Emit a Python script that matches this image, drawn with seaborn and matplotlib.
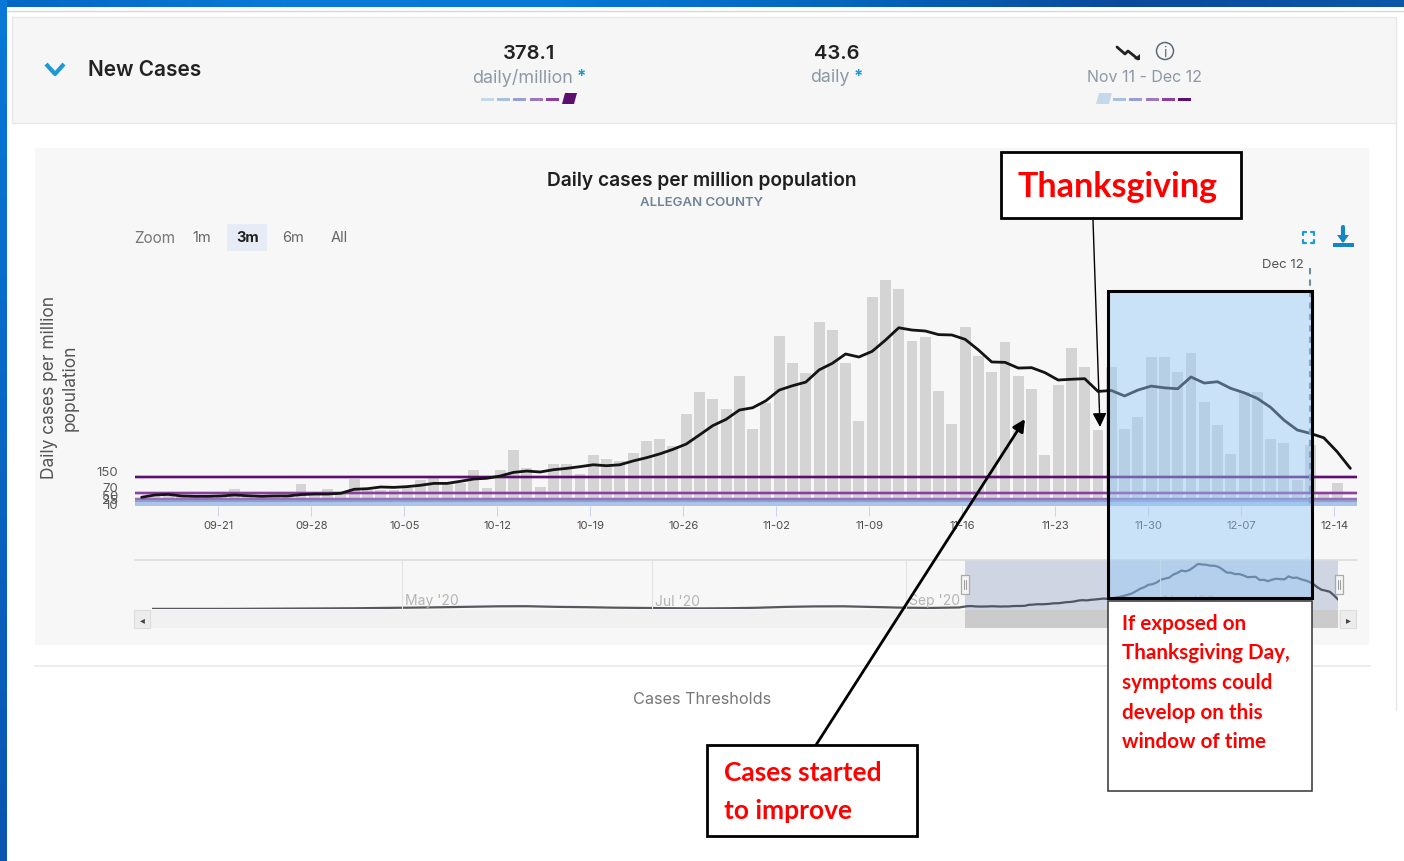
import numpy as np
import pandas as pd
import matplotlib
matplotlib.use("Agg")
import matplotlib.pyplot as plt
from matplotlib.patches import Rectangle, Polygon, Circle
from matplotlib.transforms import ScaledTranslation
import seaborn as sns

sns.set_theme(style="white")
plt.rcParams["font.family"] = ["Inter", "DejaVu Sans"]

# ---- data ----
dates = pd.date_range("2020-09-15", "2020-12-15", freq="D")
daily_cases = [40, 58, 55, 45, 45, 45, 58, 88, 52, 45, 45, 58, 116, 58, 88, 63, 140, 84, 84, 84, 93,
               137, 160, 128, 123, 190, 96, 190, 295, 202, 98, 221, 221, 168, 267, 247, 239,
               281, 344, 351, 317, 484, 602, 561, 509, 686, 405, 540, 895, 751, 698, 966, 928,
               751, 449, 1098, 1189, 1144, 870, 888, 607, 430, 940, 789, 705, 861, 686, 614,
               267, 638, 830, 730, 400, 731, 405, 470, 785, 785, 707, 803, 549, 424, 273, 601,
               601, 352, 333, 137, 319, 63, 123, np.nan]
rolling_avg = [46, 58, 61, 53, 51, 51, 53, 58, 54, 51, 53, 53, 60, 63, 63, 67, 88, 91, 100, 98, 102,
               109, 119, 119, 130, 142, 146, 158, 177, 184, 179, 191, 198, 207, 217, 212, 217,
               237, 254, 274, 298, 326, 374, 423, 456, 505, 517, 554, 610, 633, 652, 716, 751,
               800, 784, 814, 873, 938, 926, 921, 902, 900, 877, 821, 758, 756, 726, 728, 702,
               663, 667, 670, 603, 608, 579, 610, 631, 622, 617, 679, 647, 654, 619, 596, 566,
               519, 452, 400, 382, 359, 286, 198]
thresholds = [150, 70, 38, 24, 9]
threshold_labels = ["150", "70", "50", "25", "10"]
threshold_colors = ["#5c0f6f", "#8b3fa0", "#9b6fba", "#8f9ad0", "#a9c4e6"]
tick_dates = ["09-21", "09-28", "10-05", "10-12", "10-19", "10-26", "11-02", "11-09",
              "11-16", "11-23", "11-30", "12-07", "12-14"]
nav_early = [2, 2, 2, 3, 6, 9, 12, 15, 22, 28, 36, 46, 56, 58, 45, 38, 28, 22, 16, 12, 16, 26,
             44, 54, 56, 42, 28, 22, 32]
range_buttons = ["1m", "3m", "6m", "All"]
nav_labels = ["May '20", "Jul '20", "Sep '20", "Nov '20"]
nav_label_px = [405, 655, 909, 1163]
window_lines = ["If exposed on", "Thanksgiving Day,", "symptoms could", "develop on this", "window of time"]

W, H = 1404, 862
fig = plt.figure(figsize=(W / 100, H / 100), dpi=100, facecolor="white")


def px_axes(l, t, r, b, zorder):
    ax = fig.add_axes([l / W, 1 - b / H, (r - l) / W, (b - t) / H], zorder=zorder)
    ax.patch.set_alpha(0)
    return ax


# ---- page furniture (pixel space) ----
bg = px_axes(0, 0, W, H, 0)
bg.axis("off")
grad = np.linspace(0, 1, 300).reshape(1, -1)
cmap = matplotlib.colors.LinearSegmentedColormap.from_list(
    "b", ["#0467c4", "#0a7ad8", "#0678d6", "#0466bd", "#0a4a9c", "#0a57a8"])
bg.imshow(grad, extent=(0, W, 7, 0), aspect="auto", cmap=cmap, zorder=1)
bg.imshow(np.linspace(0, 1, 100).reshape(-1, 1), extent=(0, 7, H, 0), aspect="auto",
          cmap=matplotlib.colors.LinearSegmentedColormap.from_list("l", ["#0878d8", "#0a55b0"]), zorder=1)
bg.set_xlim(0, W); bg.set_ylim(H - 1, -1)
bg.plot([7, W], [11, 11], color="#d8d8d8", lw=1)
bg.add_patch(Rectangle((12, 17), 1384, 106, fc="#f6f6f6", ec="#e8e8e8", lw=1))
bg.plot([1396, 1396], [123, 710], color="#e6e6e6", lw=1)
bg.add_patch(Rectangle((35, 148), 1334, 497, fc="#f7f7f7", ec="none"))
bg.plot([35, 1370], [666, 666], color="#ececec", lw=1.5)
bg.add_patch(Rectangle((227, 224), 40, 27, fc="#e6ebf5", ec="none"))

# ---- main chart ----
df = pd.DataFrame({"idx": np.arange(len(dates)), "daily": daily_cases, "avg": rolling_avg})
ax = px_axes(135, 271, 1357, 507, 1)
for y, c, lw in zip(thresholds, threshold_colors, [1.6, 1.6, 1.5, 1.5, 3.0]):
    ax.axhline(y, color=c, lw=lw + 1.2, alpha=0.25, zorder=3)
    ax.axhline(y, color=c, lw=lw, zorder=3.1)
ax.axhspan(0, 12, color="#a9c4e6", alpha=0.9, zorder=2.9, lw=0)
sns.barplot(data=df.dropna(subset=["daily"]), x="idx", y="daily", native_scale=True, ax=ax,
            color="#d4d4d4", saturation=1, width=0.82, zorder=2, linewidth=0)
sns.lineplot(data=df, x="idx", y="avg", ax=ax, color="#141414", lw=2.0, zorder=4, errorbar=None)
ax.set_xlim(-0.5, 91.5)
ax.set_ylim(0, 1242)
ax.set_xlabel(""); ax.set_ylabel("")
sns.despine(ax=ax, left=True, bottom=True, top=True, right=True)
tick_pos = [6 - 0.22 + 7 * i for i in range(len(tick_dates))]
ax.set_xticks(tick_pos, tick_dates)
ax.tick_params(axis="x", length=7, width=0.8, color="#ccd6eb", pad=3, labelsize=8, labelcolor="#4a4a4a", bottom=True)
ax.set_yticks(thresholds, threshold_labels)
ax.tick_params(axis="y", length=0, pad=12, labelsize=9.5, labelcolor="#5a5a5a")
for lab, dy in zip(ax.get_yticklabels(), [7, 6, 4, 3, 1]):
    lab.set_transform(lab.get_transform() + ScaledTranslation(0, dy / 100, fig.dpi_scale_trans))

# ---- navigator ----
nav = px_axes(152, 561, 1338, 610, 1)
nav_days = np.arange(0, 197, 7).tolist()
nav_df = pd.DataFrame({
    "day": nav_days + [197 + i for i in range(len(rolling_avg))],
    "value": nav_early[:len(nav_days)] + rolling_avg,
})
sns.lineplot(data=nav_df, x="day", y="value", ax=nav, color="#55585c", lw=1.6, errorbar=None, zorder=3)
nav.set_xlim(0, 288)
nav.set_ylim(0, 1020)
nav.axis("off")

# ---- overlay (pixel space) ----
ov = px_axes(0, 0, W, H, 2)
ov.set_xlim(0, W); ov.set_ylim(H - 1, -1); ov.axis("off")


def T(x, y, s, size, color="#222222", ha="center", va="center", **kw):
    return ov.text(x, y + 0.5, s, fontsize=size, color=color, ha=ha, va=va, **kw)


# header
ov.plot([46, 55, 64], [64, 74, 64], color="#1b9ad6", lw=3, solid_capstyle="butt")
T(88, 68, "New Cases", 15, ha="left", weight="semibold")
T(529, 52, "378.1", 14.5, weight="semibold")
T(523, 76, "daily/million", 12.9, color="#8d99a6")
T(581, 75, "*", 12, color="#1b9ad6", weight="bold")
T(837, 52, "43.6", 14.5, weight="semibold")
T(830, 76, "daily", 12.8, color="#8d99a6")
T(858, 75, "*", 12, color="#1b9ad6", weight="bold")
T(1144, 76, "Nov 11 - Dec 12", 11.5, color="#8d99a6")
ov.plot([1117, 1125, 1128, 1138], [47, 54, 51, 59], color="#222222", lw=2)
ov.add_patch(Polygon([[1140, 60], [1134, 59], [1140, 54]], fc="#222222", ec="none"))
ov.add_patch(Circle((1165, 51), 8.5, fc="none", ec="#5a6a78", lw=1.1))
T(1165, 51, "i", 10, color="#5a6a78")
bar_cols = ["#c6d8ec", "#a9bfe0", "#9a9fd2", "#9c78bd", "#8c3fa0", "#5c0f6f"]
for i, c in enumerate(bar_cols):
    x = 481 + i * 16.2
    if i == 5:
        ov.add_patch(Polygon([[x, 104], [x + 12, 104], [x + 15, 93], [x + 3, 93]], fc=c, ec="none"))
    else:
        ov.add_patch(Rectangle((x, 97.5), 13, 3, fc=c, ec="none"))
    if i == 0:
        ov.add_patch(Polygon([[1096, 104], [1109, 104], [1112, 93], [1099, 93]], fc=c, ec="none"))
    else:
        ov.add_patch(Rectangle((1097 + i * 16.2, 97.5), 13, 3, fc=c, ec="none"))

# chart titles
T(702, 179, "Daily cases per million population", 13.75, weight="semibold", color="#1f1f1f")
T(702, 201, "ALLEGAN COUNTY", 9.5, color="#6f8299", weight="semibold")
T(154.5, 237, "Zoom", 11, color="#777777")
for x, s in zip([202, 248, 293, 339], range_buttons):
    T(x, 236, s, 10.5, color="#222222" if s == "3m" else "#666666", weight="bold" if s == "3m" else "normal")
T(50, 386, "Daily cases per million", 12.5, color="#555555", rotation=90)
T(70, 386, "population", 12.5, color="#555555", rotation=90)

# icons
ic = "#1b9ad6"
for sx, sy in [(1303, 232), (1314, 232), (1303, 243), (1314, 243)]:
    dx = 3 if sx == 1303 else -3
    dy = 3 if sy == 232 else -3
    ov.plot([sx + dx, sx, sx], [sy, sy, sy + dy], color=ic, lw=1.6)
ov.plot([1343, 1343], [227, 240], color="#1586c4", lw=3)
ov.add_patch(Polygon([[1337, 235], [1349, 235], [1343, 243]], fc="#1586c4", ec="none"))
ov.add_patch(Rectangle((1333, 243), 21, 3.5, fc="#1586c4", ec="none"))

# navigator furniture
ov.plot([135, 1357], [560, 560], color="#dcdcdc", lw=1.2)
for x in [402, 652, 906, 1160]:
    ov.plot([x, x], [560, 608], color="#e4e4e4", lw=0.8)
for x, s in zip(nav_label_px, nav_labels):
    T(x, 600, s, 10, color="#b5b5b5", ha="left")
ov.add_patch(Rectangle((134, 610), 1222, 18, fc="#f1f1f1", ec="none", zorder=0.5))
ov.add_patch(Rectangle((965, 560), 373, 50, fc="#33508f", alpha=0.2, ec="none", zorder=0.6))
ov.add_patch(Rectangle((965, 610), 373, 18, fc="#cbcbcb", ec="none", zorder=0.7))
for x, m in [(142, "◂"), (1348, "▸")]:
    ov.add_patch(Rectangle((x - 8, 610), 16, 18, fc="#ececec", ec="#dddddd", lw=0.8, zorder=0.8))
    T(x, 619, m, 7, color="#444444", family=["DejaVu Sans"])
for x in [965, 1339]:
    ov.add_patch(Rectangle((x - 4, 575), 8, 19, fc="#f4f4f4", ec="#aaaaaa", lw=0.9, zorder=2))
    ov.plot([x - 1, x - 1], [580, 589], color="#999999", lw=0.7, zorder=2.1)
    ov.plot([x + 1, x + 1], [580, 589], color="#999999", lw=0.7, zorder=2.1)
T(702, 698, "Cases Thresholds", 11.7, color="#777777")

# Dec 12 marker
T(1283, 263, "Dec 12", 9.5, color="#555555")
ov.plot([1310, 1310], [268, 506], color="#6f8ba0", lw=1.5, ls=(0, (3, 2.5)), zorder=3)

# annotation overlays
red = "#ff0000"
ov.add_patch(Rectangle((1108, 291), 204, 307, fc="#95c9fa", alpha=0.45, ec="none", zorder=3))
ov.add_patch(Rectangle((1108, 291), 204, 307, fc="none", ec="black", lw=2.2, zorder=4))
ov.add_patch(Rectangle((1108, 601), 204, 190, fc="white", ec="#333333", lw=1.1, zorder=4))
for i, s in enumerate(window_lines):
    T(1122, 622 + i * 29.7, s, 14.9, color=red, ha="left", weight="bold", family=["Lato"], zorder=5)
ov.add_patch(Rectangle((1001, 152), 240, 66, fc="white", ec="black", lw=2, zorder=4))
T(1018, 185, "Thanksgiving", 24.5, color=red, ha="left", weight="bold", family=["Lato"], zorder=5)
ov.add_patch(Rectangle((707, 745), 210, 91, fc="white", ec="black", lw=2, zorder=4))
T(724, 772, "Cases started", 19, color=red, ha="left", weight="bold", family=["Lato"], zorder=5)
T(724, 810, "to improve", 19, color=red, ha="left", weight="bold", family=["Lato"], zorder=5)
ov.annotate("", xy=(1100, 427), xytext=(1093, 220), zorder=5,
            arrowprops=dict(arrowstyle="-|>,head_width=0.35,head_length=0.7", color="black", lw=1, shrinkA=0, shrinkB=0))
ov.annotate("", xy=(1025, 419), xytext=(816, 745), zorder=5,
            arrowprops=dict(arrowstyle="-|>,head_width=0.3,head_length=0.6", color="black", lw=2, shrinkA=0, shrinkB=0))

fig.savefig("out.png", dpi=100)
